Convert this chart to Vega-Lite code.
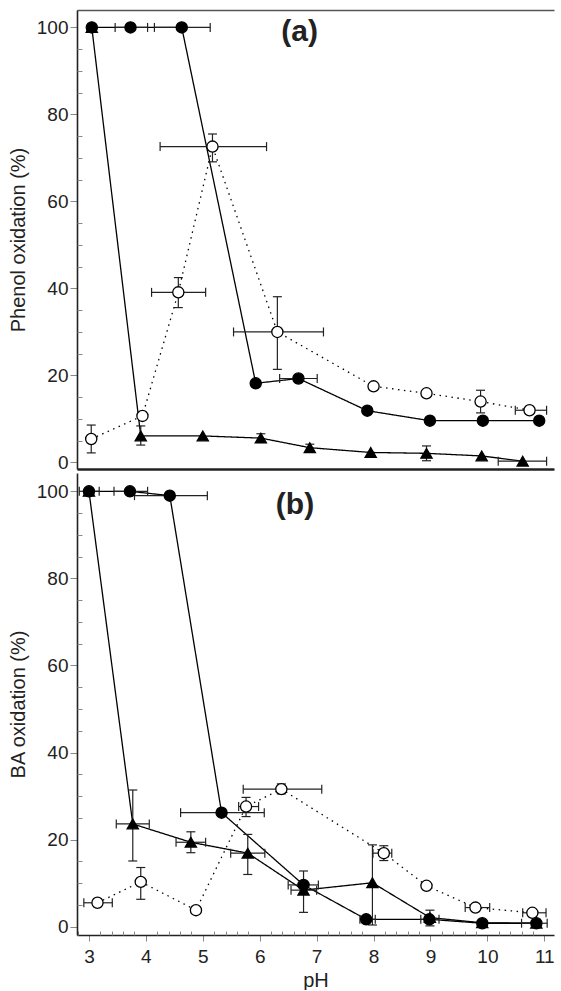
{
  "$schema": "https://vega.github.io/schema/vega-lite/v6.json",
  "padding": {"left": 8, "top": 10, "right": 0, "bottom": 0},
  "spacing": 0,
  "datasets": {
    "pts": [
      {"p": "a", "s": "Fe(II)/H₂O₂", "ph": 3.05, "v": 100},
      {"p": "a", "s": "Fe(II)/H₂O₂", "ph": 3.73, "v": 100},
      {"p": "a", "s": "Fe(II)/H₂O₂", "ph": 4.63, "v": 100},
      {"p": "a", "s": "Fe(II)/H₂O₂", "ph": 5.93, "v": 18.2},
      {"p": "a", "s": "Fe(II)/H₂O₂", "ph": 6.68, "v": 19.3},
      {"p": "a", "s": "Fe(II)/H₂O₂", "ph": 7.89, "v": 11.9},
      {"p": "a", "s": "Fe(II)/H₂O₂", "ph": 8.99, "v": 9.6},
      {"p": "a", "s": "Fe(II)/H₂O₂", "ph": 9.92, "v": 9.6},
      {"p": "a", "s": "Fe(II)/H₂O₂", "ph": 10.91, "v": 9.6},
      {"p": "a", "s": "Fe(III)/H₂O₂", "ph": 3.05, "v": 100},
      {"p": "a", "s": "Fe(III)/H₂O₂", "ph": 3.91, "v": 6.1},
      {"p": "a", "s": "Fe(III)/H₂O₂", "ph": 5.0, "v": 6.1},
      {"p": "a", "s": "Fe(III)/H₂O₂", "ph": 6.02, "v": 5.6},
      {"p": "a", "s": "Fe(III)/H₂O₂", "ph": 6.88, "v": 3.4},
      {"p": "a", "s": "Fe(III)/H₂O₂", "ph": 7.95, "v": 2.3},
      {"p": "a", "s": "Fe(III)/H₂O₂", "ph": 8.93, "v": 2.1},
      {"p": "a", "s": "Fe(III)/H₂O₂", "ph": 9.9, "v": 1.5},
      {"p": "a", "s": "Fe(III)/H₂O₂", "ph": 10.62, "v": 0.3},
      {"p": "a", "s": "Cu(II)/H₂O₂", "ph": 3.04, "v": 5.4},
      {"p": "a", "s": "Cu(II)/H₂O₂", "ph": 3.94, "v": 10.7},
      {"p": "a", "s": "Cu(II)/H₂O₂", "ph": 4.57, "v": 39.1},
      {"p": "a", "s": "Cu(II)/H₂O₂", "ph": 5.17, "v": 72.6},
      {"p": "a", "s": "Cu(II)/H₂O₂", "ph": 6.31, "v": 30.0},
      {"p": "a", "s": "Cu(II)/H₂O₂", "ph": 8.0, "v": 17.5},
      {"p": "a", "s": "Cu(II)/H₂O₂", "ph": 8.93, "v": 15.9},
      {"p": "a", "s": "Cu(II)/H₂O₂", "ph": 9.88, "v": 14.0},
      {"p": "a", "s": "Cu(II)/H₂O₂", "ph": 10.74, "v": 12.0},
      {"p": "b", "s": "Fe(II)/H₂O₂", "ph": 3.0, "v": 100},
      {"p": "b", "s": "Fe(II)/H₂O₂", "ph": 3.72, "v": 100},
      {"p": "b", "s": "Fe(II)/H₂O₂", "ph": 4.42, "v": 99},
      {"p": "b", "s": "Fe(II)/H₂O₂", "ph": 5.33, "v": 26.2},
      {"p": "b", "s": "Fe(II)/H₂O₂", "ph": 6.77, "v": 9.6},
      {"p": "b", "s": "Fe(II)/H₂O₂", "ph": 7.87, "v": 1.7},
      {"p": "b", "s": "Fe(II)/H₂O₂", "ph": 8.98, "v": 1.7},
      {"p": "b", "s": "Fe(II)/H₂O₂", "ph": 9.91, "v": 0.8},
      {"p": "b", "s": "Fe(II)/H₂O₂", "ph": 10.86, "v": 0.8},
      {"p": "b", "s": "Fe(III)/H₂O₂", "ph": 3.0, "v": 100},
      {"p": "b", "s": "Fe(III)/H₂O₂", "ph": 3.77, "v": 23.6},
      {"p": "b", "s": "Fe(III)/H₂O₂", "ph": 4.79, "v": 19.4},
      {"p": "b", "s": "Fe(III)/H₂O₂", "ph": 5.79, "v": 16.9},
      {"p": "b", "s": "Fe(III)/H₂O₂", "ph": 6.77, "v": 8.4},
      {"p": "b", "s": "Fe(III)/H₂O₂", "ph": 7.98, "v": 10.1},
      {"p": "b", "s": "Fe(III)/H₂O₂", "ph": 8.99, "v": 2.1},
      {"p": "b", "s": "Fe(III)/H₂O₂", "ph": 9.91, "v": 0.9},
      {"p": "b", "s": "Fe(III)/H₂O₂", "ph": 10.86, "v": 0.8},
      {"p": "b", "s": "Cu(II)/H₂O₂", "ph": 3.15, "v": 5.5},
      {"p": "b", "s": "Cu(II)/H₂O₂", "ph": 3.91, "v": 10.3},
      {"p": "b", "s": "Cu(II)/H₂O₂", "ph": 4.88, "v": 3.8},
      {"p": "b", "s": "Cu(II)/H₂O₂", "ph": 5.76, "v": 27.6},
      {"p": "b", "s": "Cu(II)/H₂O₂", "ph": 6.38, "v": 31.6},
      {"p": "b", "s": "Cu(II)/H₂O₂", "ph": 8.18, "v": 16.9},
      {"p": "b", "s": "Cu(II)/H₂O₂", "ph": 8.93, "v": 9.4},
      {"p": "b", "s": "Cu(II)/H₂O₂", "ph": 9.79, "v": 4.4},
      {"p": "b", "s": "Cu(II)/H₂O₂", "ph": 10.79, "v": 3.2}
    ],
    "xe": [
      {"p": "a", "v": 100, "lo": 3.46, "hi": 4.03},
      {"p": "a", "v": 100, "lo": 4.15, "hi": 5.13},
      {"p": "a", "v": 19.3, "lo": 6.35, "hi": 7.01},
      {"p": "a", "v": 0.3, "lo": 10.19, "hi": 11.04},
      {"p": "a", "v": 39.1, "lo": 4.1, "hi": 5.05},
      {"p": "a", "v": 72.6, "lo": 4.25, "hi": 6.12},
      {"p": "a", "v": 30.0, "lo": 5.54, "hi": 7.12},
      {"p": "a", "v": 12.0, "lo": 10.49, "hi": 11.04},
      {"p": "b", "v": 100, "lo": 2.83, "hi": 3.18},
      {"p": "b", "v": 100, "lo": 3.44, "hi": 4.03},
      {"p": "b", "v": 99, "lo": 3.8, "hi": 5.08},
      {"p": "b", "v": 26.2, "lo": 4.61, "hi": 6.08},
      {"p": "b", "v": 9.6, "lo": 6.5, "hi": 7.03},
      {"p": "b", "v": 1.7, "lo": 7.76, "hi": 8.03},
      {"p": "b", "v": 1.7, "lo": 8.83, "hi": 9.15},
      {"p": "b", "v": 23.6, "lo": 3.48, "hi": 4.06},
      {"p": "b", "v": 19.4, "lo": 4.53, "hi": 5.05},
      {"p": "b", "v": 16.9, "lo": 5.49, "hi": 6.09},
      {"p": "b", "v": 8.4, "lo": 6.55, "hi": 7.0},
      {"p": "b", "v": 0.8, "lo": 10.6, "hi": 11.05},
      {"p": "b", "v": 5.5, "lo": 2.91, "hi": 3.41},
      {"p": "b", "v": 27.6, "lo": 5.63, "hi": 5.98},
      {"p": "b", "v": 31.6, "lo": 5.71, "hi": 7.09},
      {"p": "b", "v": 16.9, "lo": 7.99, "hi": 8.32},
      {"p": "b", "v": 4.4, "lo": 9.61, "hi": 10.04},
      {"p": "b", "v": 3.2, "lo": 10.62, "hi": 11.03}
    ],
    "ye": [
      {"p": "a", "ph": 3.91, "lo": 4.0, "hi": 8.4},
      {"p": "a", "ph": 6.02, "lo": 4.6, "hi": 6.6},
      {"p": "a", "ph": 6.88, "lo": 2.6, "hi": 4.2},
      {"p": "a", "ph": 8.93, "lo": 0.4, "hi": 3.8},
      {"p": "a", "ph": 3.04, "lo": 2.2, "hi": 8.6},
      {"p": "a", "ph": 4.57, "lo": 35.6, "hi": 42.5},
      {"p": "a", "ph": 5.17, "lo": 69.1, "hi": 75.5},
      {"p": "a", "ph": 6.31, "lo": 21.4, "hi": 38.1},
      {"p": "a", "ph": 9.88, "lo": 11.4, "hi": 16.6},
      {"p": "b", "ph": 3.77, "lo": 15.1, "hi": 31.4},
      {"p": "b", "ph": 4.79, "lo": 17.0, "hi": 21.8},
      {"p": "b", "ph": 5.79, "lo": 12.0, "hi": 21.2},
      {"p": "b", "ph": 6.77, "lo": 3.3, "hi": 12.8},
      {"p": "b", "ph": 7.98, "lo": 0.4, "hi": 18.8},
      {"p": "b", "ph": 8.99, "lo": 0.2, "hi": 3.8},
      {"p": "b", "ph": 3.91, "lo": 6.3, "hi": 13.6},
      {"p": "b", "ph": 5.76, "lo": 25.3, "hi": 29.7},
      {"p": "b", "ph": 6.38, "lo": 30.5, "hi": 32.8},
      {"p": "b", "ph": 8.18, "lo": 15.2, "hi": 18.6}
    ]
  },
  "resolve": {"scale": {"shape": "independent", "fill": "independent", "strokeDash": "independent"}},
  "vconcat": [
    {
      "width": 477,
      "height": 459,
      "view": {"stroke": null},
      "resolve": {"axis": {"x": "independent", "y": "independent"}},
      "layer": [
        {
          "data": {"name": "pts"},
          "transform": [{"filter": "datum.p === 'a'"}],
          "mark": {"type": "line", "color": "black", "strokeWidth": 1.3},
          "encoding": {
            "x": {"field": "ph", "type": "quantitative", "scale": {"domain": [2.79, 11.17], "nice": false, "zero": false}, "axis": {"orient": "bottom", "grid": false, "ticks": false, "labels": false, "title": null, "domainWidth": 2.5, "domainColor": "#222"}},
            "y": {"field": "v", "type": "quantitative", "scale": {"domain": [-1.5, 104], "nice": false, "zero": false}, "axis": {"orient": "left", "grid": false, "title": "Phenol oxidation (%)", "titlePadding": 8, "format": "d", "values": [0, 20, 40, 60, 80, 100], "tickSize": 7, "labelFont": "Liberation Sans", "labelFontSize": 19, "labelColor": "#222", "labelPadding": 2, "titleFont": "Liberation Sans", "titleFontSize": 20, "titleFontWeight": "normal", "titleColor": "#222", "domainColor": "#222", "domainWidth": 1.6}},
            "strokeDash": {"field": "s", "type": "nominal", "scale": {"domain": ["Fe(II)/H₂O₂", "Fe(III)/H₂O₂", "Cu(II)/H₂O₂"], "range": [[1, 0], [1, 0], [1.5, 4.5]]}, "legend": null}
          }
        },
        {
          "data": {"name": "xe"},
          "transform": [{"filter": "datum.p === 'a'"}],
          "mark": {"type": "rule", "color": "#222", "strokeWidth": 1.2},
          "encoding": {
            "x": {"field": "lo", "type": "quantitative", "axis": null},
            "x2": {"field": "hi"},
            "y": {"field": "v", "type": "quantitative", "axis": null}
          }
        },
        {
          "data": {"name": "xe"},
          "transform": [{"filter": "datum.p === 'a'"}, {"fold": ["lo", "hi"], "as": ["k", "xv"]}],
          "mark": {"type": "point", "shape": "M0,-1L0,1", "size": 81, "stroke": "#222", "strokeWidth": 1.2, "filled": false, "opacity": 1},
          "encoding": {
            "x": {"field": "xv", "type": "quantitative", "axis": null},
            "y": {"field": "v", "type": "quantitative", "axis": null}
          }
        },
        {
          "data": {"name": "ye"},
          "transform": [{"filter": "datum.p === 'a'"}],
          "mark": {"type": "rule", "color": "#222", "strokeWidth": 1.2},
          "encoding": {
            "y": {"field": "lo", "type": "quantitative", "axis": null},
            "y2": {"field": "hi"},
            "x": {"field": "ph", "type": "quantitative", "axis": null}
          }
        },
        {
          "data": {"name": "ye"},
          "transform": [{"filter": "datum.p === 'a'"}, {"fold": ["lo", "hi"], "as": ["k", "yv"]}],
          "mark": {"type": "point", "shape": "M-1,0L1,0", "size": 81, "stroke": "#222", "strokeWidth": 1.2, "filled": false, "opacity": 1},
          "encoding": {
            "x": {"field": "ph", "type": "quantitative", "axis": null},
            "y": {"field": "yv", "type": "quantitative", "axis": null}
          }
        },
        {
          "data": {"name": "pts"},
          "transform": [{"filter": "datum.p === 'a'"}],
          "mark": {"type": "point", "filled": true, "stroke": "black", "strokeWidth": 1.3, "opacity": 1, "size": 125},
          "encoding": {
            "x": {"field": "ph", "type": "quantitative", "axis": null},
            "y": {"field": "v", "type": "quantitative", "axis": null},
            "shape": {"field": "s", "type": "nominal", "scale": {"domain": ["Fe(II)/H₂O₂", "Fe(III)/H₂O₂", "Cu(II)/H₂O₂"], "range": ["circle", "triangle-up", "circle"]},
              "legend": {"orient": "none", "legendX": 317.5, "legendY": 33, "title": null, "symbolSize": 121, "symbolStrokeColor": "black", "symbolStrokeWidth": 1.3, "labelFont": "Liberation Sans", "labelFontSize": 19, "labelColor": "#222", "labelOffset": 29.5, "rowPadding": 13, "labelLimit": 300}},
            "fill": {"field": "s", "type": "nominal", "scale": {"domain": ["Fe(II)/H₂O₂", "Fe(III)/H₂O₂", "Cu(II)/H₂O₂"], "range": ["black", "black", "white"]},
              "legend": {"orient": "none", "legendX": 317.5, "legendY": 33, "title": null, "symbolSize": 121, "symbolStrokeColor": "black", "symbolStrokeWidth": 1.3, "labelFont": "Liberation Sans", "labelFontSize": 19, "labelColor": "#222", "labelOffset": 29.5, "rowPadding": 13, "labelLimit": 300}}
          }
        },
        {
          "data": {"values": [{"t": "(a)"}]},
          "mark": {"type": "text", "fontSize": 30, "fontWeight": "bold", "color": "#222", "font": "Liberation Sans", "baseline": "middle"},
          "encoding": {
            "x": {"datum": 6.7, "type": "quantitative", "axis": {"orient": "top", "grid": false, "ticks": false, "labels": false, "title": null, "domainWidth": 1.5, "domainColor": "#555"}},
            "y": {"datum": 98.9, "type": "quantitative", "axis": {"orient": "left", "grid": false, "values": [5,10,15,25,30,35,45,50,55,65,70,75,85,90,95], "labels": false, "domain": false, "title": null, "tickSize": 5, "offset": -5}},
            "text": {"field": "t"}
          }
        }
      ]
    },
    {
      "width": 477,
      "height": 462,
      "view": {"stroke": null},
      "resolve": {"axis": {"x": "independent", "y": "independent"}},
      "layer": [
        {
          "data": {"name": "pts"},
          "transform": [{"filter": "datum.p === 'b'"}],
          "mark": {"type": "line", "color": "black", "strokeWidth": 1.3},
          "encoding": {
            "x": {"field": "ph", "type": "quantitative", "scale": {"domain": [2.79, 11.17], "nice": false, "zero": false}, "axis": {"orient": "bottom", "grid": false, "title": "pH", "titlePadding": 4, "format": "d", "labelPadding": 6, "values": [3, 4, 5, 6, 7, 8, 9, 10, 11], "tickSize": 6, "labelFont": "Liberation Sans", "labelFontSize": 19, "labelColor": "#222", "labelOverlap": false, "titleFont": "Liberation Sans", "titleFontSize": 20, "titleFontWeight": "normal", "titleColor": "#222", "domainColor": "#222", "domainWidth": 1.6}},
            "y": {"field": "v", "type": "quantitative", "scale": {"domain": [-1.9, 104.2], "nice": false, "zero": false}, "axis": {"orient": "left", "grid": false, "title": "BA oxidation (%)", "titlePadding": 8, "format": "d", "values": [0, 20, 40, 60, 80, 100], "tickSize": 7, "labelFont": "Liberation Sans", "labelFontSize": 19, "labelColor": "#222", "labelPadding": 2, "titleFont": "Liberation Sans", "titleFontSize": 20, "titleFontWeight": "normal", "titleColor": "#222", "domainColor": "#222", "domainWidth": 1.6}},
            "strokeDash": {"field": "s", "type": "nominal", "scale": {"domain": ["Fe(II)/H₂O₂", "Fe(III)/H₂O₂", "Cu(II)/H₂O₂"], "range": [[1, 0], [1, 0], [1.5, 4.5]]}, "legend": null}
          }
        },
        {
          "data": {"name": "xe"},
          "transform": [{"filter": "datum.p === 'b'"}],
          "mark": {"type": "rule", "color": "#222", "strokeWidth": 1.2},
          "encoding": {
            "x": {"field": "lo", "type": "quantitative", "axis": null},
            "x2": {"field": "hi"},
            "y": {"field": "v", "type": "quantitative", "axis": null}
          }
        },
        {
          "data": {"name": "xe"},
          "transform": [{"filter": "datum.p === 'b'"}, {"fold": ["lo", "hi"], "as": ["k", "xv"]}],
          "mark": {"type": "point", "shape": "M0,-1L0,1", "size": 81, "stroke": "#222", "strokeWidth": 1.2, "filled": false, "opacity": 1},
          "encoding": {
            "x": {"field": "xv", "type": "quantitative", "axis": null},
            "y": {"field": "v", "type": "quantitative", "axis": null}
          }
        },
        {
          "data": {"name": "ye"},
          "transform": [{"filter": "datum.p === 'b'"}],
          "mark": {"type": "rule", "color": "#222", "strokeWidth": 1.2},
          "encoding": {
            "y": {"field": "lo", "type": "quantitative", "axis": null},
            "y2": {"field": "hi"},
            "x": {"field": "ph", "type": "quantitative", "axis": null}
          }
        },
        {
          "data": {"name": "ye"},
          "transform": [{"filter": "datum.p === 'b'"}, {"fold": ["lo", "hi"], "as": ["k", "yv"]}],
          "mark": {"type": "point", "shape": "M-1,0L1,0", "size": 81, "stroke": "#222", "strokeWidth": 1.2, "filled": false, "opacity": 1},
          "encoding": {
            "x": {"field": "ph", "type": "quantitative", "axis": null},
            "y": {"field": "yv", "type": "quantitative", "axis": null}
          }
        },
        {
          "data": {"name": "pts"},
          "transform": [{"filter": "datum.p === 'b'"}],
          "mark": {"type": "point", "filled": true, "stroke": "black", "strokeWidth": 1.3, "opacity": 1, "size": 125},
          "encoding": {
            "x": {"field": "ph", "type": "quantitative", "axis": null},
            "y": {"field": "v", "type": "quantitative", "axis": null},
            "shape": {"field": "s", "type": "nominal", "scale": {"domain": ["Fe(II)/H₂O₂", "Fe(III)/H₂O₂", "Cu(II)/H₂O₂"], "range": ["circle", "triangle-up", "circle"]},
              "legend": {"orient": "none", "legendX": 312.5, "legendY": 34, "title": null, "symbolSize": 121, "symbolStrokeColor": "black", "symbolStrokeWidth": 1.3, "labelFont": "Liberation Sans", "labelFontSize": 19, "labelColor": "#222", "labelOffset": 29.5, "rowPadding": 13, "labelLimit": 300}},
            "fill": {"field": "s", "type": "nominal", "scale": {"domain": ["Fe(II)/H₂O₂", "Fe(III)/H₂O₂", "Cu(II)/H₂O₂"], "range": ["black", "black", "white"]},
              "legend": {"orient": "none", "legendX": 312.5, "legendY": 34, "title": null, "symbolSize": 121, "symbolStrokeColor": "black", "symbolStrokeWidth": 1.3, "labelFont": "Liberation Sans", "labelFontSize": 19, "labelColor": "#222", "labelOffset": 29.5, "rowPadding": 13, "labelLimit": 300}}
          }
        },
        {
          "data": {"values": [{"t": "(b)"}]},
          "mark": {"type": "text", "fontSize": 30, "fontWeight": "bold", "color": "#222", "font": "Liberation Sans", "baseline": "middle"},
          "encoding": {
            "x": {"datum": 6.62, "type": "quantitative", "axis": {"orient": "bottom", "grid": false, "values": [2.8,3.2,3.4,3.6,3.8,4.2,4.4,4.6,4.8,5.2,5.4,5.6,5.8,6.2,6.4,6.6,6.8,7.2,7.4,7.6,7.8,8.2,8.4,8.6,8.8,9.2,9.4,9.6,9.8,10.2,10.4,10.6,10.8], "labels": false, "domain": false, "title": null, "tickSize": 4, "offset": -4}},
            "y": {"datum": 96.9, "type": "quantitative", "axis": {"orient": "left", "grid": false, "values": [5,10,15,25,30,35,45,50,55,65,70,75,85,90,95], "labels": false, "domain": false, "title": null, "tickSize": 5, "offset": -5}},
            "text": {"field": "t"}
          }
        }
      ]
    }
  ]
}
